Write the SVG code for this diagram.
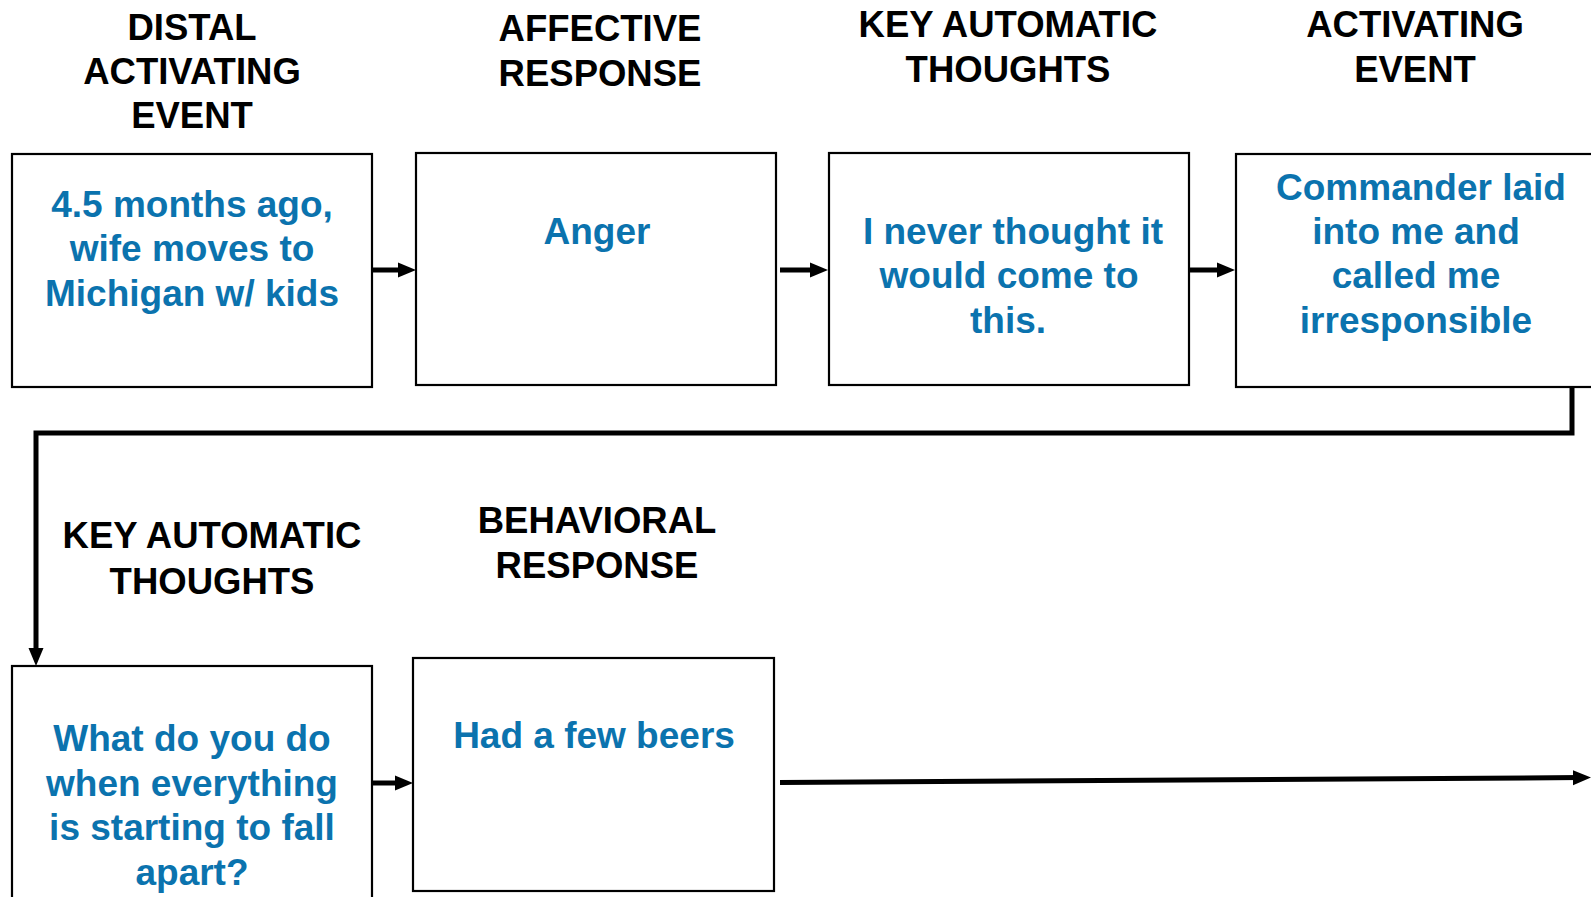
<svg xmlns="http://www.w3.org/2000/svg" width="1591" height="897" viewBox="0 0 1591 897">
<style>
.box{fill:#fff;stroke:#000;stroke-width:2.2}
.hd{font-family:"Liberation Sans",Arial,sans-serif;font-weight:bold;font-size:36.5px;fill:#000;text-anchor:middle}
.bt{font-family:"Liberation Sans",Arial,sans-serif;font-weight:bold;font-size:37px;fill:#0B73AE;text-anchor:middle}
.con{fill:none;stroke:#000;stroke-width:5}
</style>
<defs>
<marker id="ah" markerUnits="userSpaceOnUse" markerWidth="18" markerHeight="16" viewBox="0 0 18 16" refX="8" refY="8" orient="auto">
<path d="M0,0.5 L18,8 L0,15.5 Z" fill="#000"/>
</marker>
</defs>
<rect width="1591" height="897" fill="#fff"/>
<g id="node-distal">
<text class="hd" x="192" y="40">DISTAL</text>
<text class="hd" x="192" y="84">ACTIVATING</text>
<text class="hd" x="192" y="128">EVENT</text>
<rect class="box" x="12" y="154" width="360" height="233"/>
<text class="bt" x="192" y="217">4.5 months ago,</text>
<text class="bt" x="192" y="261">wife moves to</text>
<text class="bt" x="192" y="306">Michigan w/ kids</text>
</g>
<g id="node-affective">
<text class="hd" x="600" y="41">AFFECTIVE</text>
<text class="hd" x="600" y="86">RESPONSE</text>
<rect class="box" x="416" y="153" width="360" height="232"/>
<text class="bt" x="597" y="244">Anger</text>
</g>
<g id="node-kat1">
<text class="hd" x="1008" y="37">KEY AUTOMATIC</text>
<text class="hd" x="1008" y="82">THOUGHTS</text>
<rect class="box" x="829" y="153" width="360" height="232"/>
<text class="bt" x="1013" y="244">I never thought it</text>
<text class="bt" x="1009" y="288">would come to</text>
<text class="bt" x="1008" y="333">this.</text>
</g>
<g id="node-activating">
<text class="hd" x="1415" y="37">ACTIVATING</text>
<text class="hd" x="1415" y="82">EVENT</text>
<rect class="box" x="1236" y="154" width="362" height="233"/>
<text class="bt" x="1421" y="200">Commander laid</text>
<text class="bt" x="1416" y="244">into me and</text>
<text class="bt" x="1416" y="288">called me</text>
<text class="bt" x="1416" y="333">irresponsible</text>
</g>
<g id="node-kat2">
<text class="hd" x="212" y="548">KEY AUTOMATIC</text>
<text class="hd" x="212" y="594">THOUGHTS</text>
<rect class="box" x="12" y="666" width="360" height="240"/>
<text class="bt" x="192" y="751">What do you do</text>
<text class="bt" x="192" y="796">when everything</text>
<text class="bt" x="192" y="840">is starting to fall</text>
<text class="bt" x="192" y="885">apart?</text>
</g>
<g id="node-behavioral">
<text class="hd" x="597" y="533">BEHAVIORAL</text>
<text class="hd" x="597" y="578">RESPONSE</text>
<rect class="box" x="413" y="658" width="361" height="233"/>
<text class="bt" x="594" y="748">Had a few beers</text>
</g>
<g id="connectors">
<line class="con" x1="372" y1="270" x2="406" y2="270" marker-end="url(#ah)"/>
<line class="con" x1="780" y1="270" x2="818" y2="270" marker-end="url(#ah)"/>
<line class="con" x1="1189" y1="270" x2="1225" y2="270" marker-end="url(#ah)"/>
<polyline class="con" points="1572,387 1572,433 36,433 36,656" marker-end="url(#ah)"/>
<line class="con" x1="372" y1="783" x2="403" y2="783" marker-end="url(#ah)"/>
<line class="con" x1="780" y1="782.5" x2="1581" y2="777.6" marker-end="url(#ah)"/>
</g>
</svg>
